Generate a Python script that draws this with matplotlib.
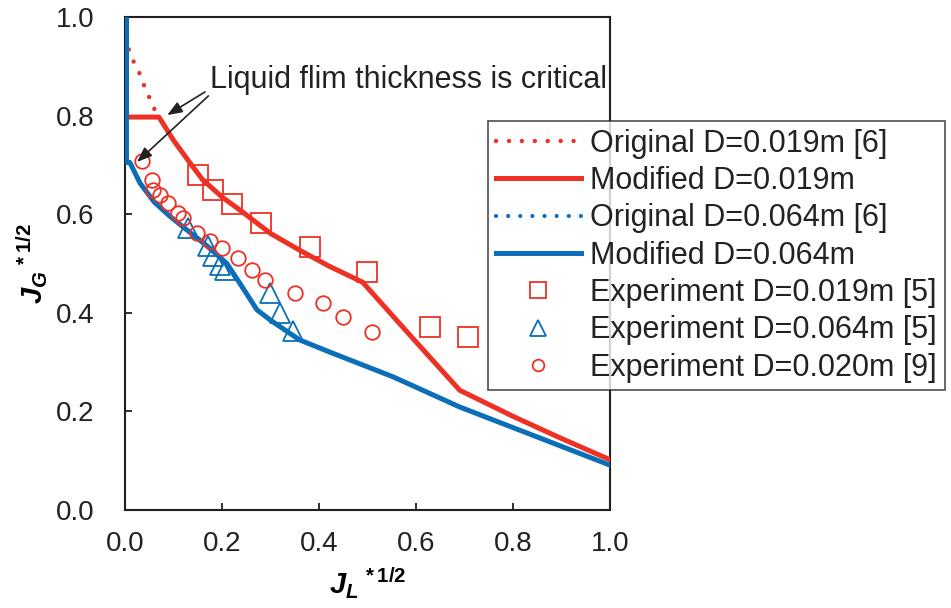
import numpy as np
from matplotlib import pyplot as plt

plt.rcParams['font.family'] = ['Liberation Sans', 'DejaVu Sans']
plt.rcParams['mathtext.fontset'] = 'custom'
plt.rcParams['mathtext.it'] = 'Liberation Sans:italic:bold'
plt.rcParams['mathtext.rm'] = 'Liberation Sans:bold'

RED = '#EE3124'
BLUE = '#0A6EB8'
INK = '#231F20'

# original model, D=0.019m (dotted, only visible above the kink)
orig019_x = [0.004, 0.008, 0.017, 0.029, 0.037, 0.048, 0.058, 0.07]
orig019_y = [0.96, 0.933, 0.911, 0.888, 0.866, 0.842, 0.818, 0.797]

# modified model, D=0.019m
mod019_x = [0.003, 0.003, 0.07, 0.10, 0.134, 0.16, 0.2, 0.243, 0.3, 0.36, 0.42, 0.49, 0.59, 0.69, 0.8, 0.9, 1.0]
mod019_y = [1.0, 0.797, 0.797, 0.75, 0.704, 0.67, 0.635, 0.604, 0.561, 0.527, 0.495, 0.462, 0.352, 0.243, 0.19, 0.145, 0.102]

# modified model, D=0.064m
mod064_x = [0.003, 0.003, 0.01, 0.031, 0.06, 0.09, 0.12, 0.17, 0.21, 0.24, 0.272, 0.3, 0.36, 0.423, 0.553, 0.69, 1.0]
mod064_y = [1.0, 0.705, 0.705, 0.663, 0.625, 0.598, 0.574, 0.535, 0.50, 0.455, 0.406, 0.385, 0.345, 0.32, 0.27, 0.209, 0.091]

# original model, D=0.064m (hidden under the modified curve)
orig064_x = [0.01, 0.031, 0.06, 0.09, 0.12, 0.17, 0.21]
orig064_y = [0.705, 0.663, 0.625, 0.598, 0.574, 0.535, 0.50]

# experiments
exp019_x = [0.15, 0.181, 0.22, 0.28, 0.381, 0.499, 0.629, 0.707]
exp019_y = [0.68, 0.649, 0.62, 0.583, 0.533, 0.483, 0.371, 0.351]

exp064_x = [0.13, 0.171, 0.181, 0.196, 0.206, 0.299, 0.32, 0.347]
exp064_y = [0.572, 0.535, 0.515, 0.497, 0.487, 0.44, 0.40, 0.363]

exp020_x = [0.035, 0.055, 0.058, 0.072, 0.089, 0.11, 0.12, 0.148, 0.175, 0.2, 0.233, 0.262, 0.289, 0.35, 0.408, 0.45, 0.509]
exp020_y = [0.708, 0.67, 0.65, 0.639, 0.622, 0.602, 0.592, 0.562, 0.545, 0.531, 0.511, 0.487, 0.466, 0.44, 0.42, 0.392, 0.361]

tick_vals = [0.0, 0.2, 0.4, 0.6, 0.8, 1.0]

fig = plt.figure(figsize=(9.51, 6.08), dpi=100)
ax = fig.add_axes([125/951, 1 - 510/608, 485/951, 493/608])

ax.plot(orig064_x, orig064_y, color=BLUE, lw=3, linestyle=(0, (0.01, 2.9)),
        dash_capstyle='round', label='Original D=0.064m [6]', zorder=2)
ax.plot(orig019_x, orig019_y, color=RED, lw=3.2, linestyle=(0, (0.01, 2.9)),
        dash_capstyle='round', label='Original D=0.019m [6]', zorder=3)
ax.plot(mod019_x, mod019_y, color=RED, lw=3.6, label='Modified D=0.019m', zorder=3)
ax.plot(mod064_x, mod064_y, color=BLUE, lw=3.6, label='Modified D=0.064m', zorder=3.5)
ax.plot(exp019_x, exp019_y, 's', ms=15, mfc='none', mec=RED, mew=1.3,
        label='Experiment D=0.019m [5]', zorder=4)
ax.plot(exp064_x, exp064_y, '^', ms=14, mfc='none', mec=BLUE, mew=1.3,
        label='Experiment D=0.064m [5]', zorder=4)
ax.plot(exp020_x, exp020_y, 'o', ms=10.5, mfc='none', mec=RED, mew=1.3,
        label='Experiment D=0.020m [9]', zorder=4)

ax.set_xlim(0, 1)
ax.set_ylim(0, 1)
ax.set_xticks(tick_vals)
ax.set_yticks(tick_vals)
ax.set_xticklabels(['%.1f' % v for v in tick_vals])
ax.set_yticklabels(['%.1f' % v for v in tick_vals])
ax.tick_params(direction='in', length=5, width=1.3, colors=INK, labelsize=20,
               labelcolor='#222222')
ax.tick_params(axis='y', pad=22)
ax.tick_params(axis='x', pad=15)
for s in ax.spines.values():
    s.set_linewidth(1.5)
    s.set_color(INK)

ax.set_xlabel(r'$\mathit{J_L{}^{\,*1/2}}$', fontsize=21, labelpad=6)
ax.set_ylabel(r'$\mathit{J_G{}^{\,*1/2}}$', fontsize=21, labelpad=4)

ax.text(0.175, 0.872, 'Liquid flim thickness is critical', fontsize=22,
        ha='left', va='center', color='#222222', zorder=6)
arrow = dict(arrowstyle='-|>,head_length=0.9,head_width=0.35', color='#222222', lw=1.2,
             shrinkA=0, shrinkB=0)
ax.annotate('', xy=(0.087, 0.801), xytext=(0.165, 0.848), arrowprops=arrow, zorder=6)
ax.annotate('', xy=(0.025, 0.706), xytext=(0.172, 0.840), arrowprops=arrow, zorder=6)

h, l = ax.get_legend_handles_labels()
order = [1, 2, 0, 3, 4, 5, 6]
leg = fig.legend([h[i] for i in order], [l[i] for i in order],
                 loc='upper left', bbox_to_anchor=(488/951, 1 - 121/608),
                 fontsize=22, frameon=True, fancybox=False, handlelength=2.8,
                 handletextpad=0.3, labelspacing=0.24, borderaxespad=0,
                 borderpad=0.25, numpoints=1, markerscale=0.8)
leg.get_frame().set_edgecolor(INK)
leg.get_frame().set_linewidth(1.2)
leg.set_zorder(10)
for t in leg.get_texts():
    t.set_color('#222222')

fig.savefig('out.png', dpi=100)
